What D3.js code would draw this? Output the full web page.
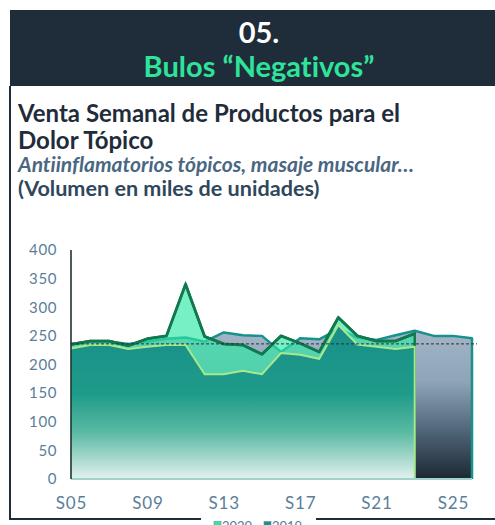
<!DOCTYPE html>
<html>
<head>
<meta charset="utf-8">
<script src="https://cdn.jsdelivr.net/npm/d3@7"></script>
<style>
  html, body { margin: 0; padding: 0; background: #ffffff; }
  svg { display: block; font-family: Lato, "Open Sans", sans-serif; font-variant-ligatures: none; }
</style>
</head>
<body>
<svg id="chart" width="495" height="525"></svg>
<script>
// ---- data ----
const weeks = ["S05","S06","S07","S08","S09","S10","S11","S12","S13","S14","S15","S16","S17","S18","S19","S20","S21","S22","S23","S24","S25","S26"];
const xTickLabels = ["S05","S09","S13","S17","S21","S25"];
const yTickValues = [0,50,100,150,200,250,300,350,400];
const serie2020 = [235,241,241,233,245,250,340,249,236,234,218,250,237,222,282,250,241,241,254];
const serie2019 = [236,240,240,236,240,245,247,240,256,251,250,222,246,244,262,247,243,251,259,250,250,246];
const serieBase = [228,234,234,227,231,234,234,183,183,189,183,220,217,210,269,235,231,227,231];
const mediaValue = 236;
const legendLabels = ["2020","2019"];

// ---- layout ----
const svg = d3.select("#chart");
const x = d3.scalePoint().domain(weeks).range([71, 472]);
const y = d3.scaleLinear().domain([0, 400]).range([479, 250]);
const defs = svg.append("defs");

// header
svg.append("rect").attr("x", 10).attr("y", 10).attr("width", 485).attr("height", 76).attr("fill", "#1f2c39");
svg.append("text").attr("x", 259).attr("y", 43).attr("text-anchor", "middle")
  .attr("fill", "#ffffff").attr("font-weight", 700).attr("font-size", 29).text("05.");
svg.append("text").attr("x", 259).attr("y", 77).attr("text-anchor", "middle")
  .attr("fill", "#2fe39b").attr("font-weight", 700).attr("font-size", 29).text("Bulos “Negativos”");

// frame
svg.append("line").attr("x1", 10).attr("x2", 10).attr("y1", 86).attr("y2", 520).attr("stroke", "#1f2c39").attr("stroke-width", 2);
svg.append("line").attr("x1", 9).attr("x2", 201).attr("y1", 519).attr("y2", 519).attr("stroke", "#1f2c39").attr("stroke-width", 2);
svg.append("line").attr("x1", 316).attr("x2", 495).attr("y1", 519).attr("y2", 519).attr("stroke", "#1f2c39").attr("stroke-width", 2);

// titles
svg.append("text").attr("x", 18).attr("y", 122).attr("fill", "#1f2c39").attr("font-weight", 700).attr("font-size", 24).text("Venta Semanal de Productos para el");
svg.append("text").attr("x", 18).attr("y", 149).attr("fill", "#1f2c39").attr("font-weight", 700).attr("font-size", 24).text("Dolor Tópico");
svg.append("text").attr("x", 18).attr("y", 172).attr("fill", "#4a6782").attr("font-weight", 700).attr("font-style", "italic").attr("font-size", 21).text("Antiinflamatorios tópicos, masaje muscular…");
svg.append("text").attr("x", 18).attr("y", 196).attr("fill", "#2f475c").attr("font-weight", 700).attr("font-size", 21.6).text("(Volumen en miles de unidades)");

// gradients
const g19 = defs.append("linearGradient").attr("id", "g19").attr("gradientUnits", "userSpaceOnUse")
  .attr("x1", 0).attr("x2", 0).attr("y1", y(262)).attr("y2", y(0));
[["0%", "#a3b6c8"], ["35%", "#8ea4b7"], ["70%", "#4c6174"], ["100%", "#1d2834"]].forEach(s => g19.append("stop").attr("offset", s[0]).attr("stop-color", s[1]));
const gBase = defs.append("linearGradient").attr("id", "gBase").attr("gradientUnits", "userSpaceOnUse")
  .attr("x1", 0).attr("x2", 0).attr("y1", y(270)).attr("y2", y(0));
[["0%", "#178f89"], ["45%", "#1f9b89"], ["70%", "#5abaa4"], ["100%", "#e4f1ee"]].forEach(s => gBase.append("stop").attr("offset", s[0]).attr("stop-color", s[1]));

const plot = svg.append("g");

const area = d3.area().x(d => x(d[0])).y0(y(0)).y1(d => y(d[1]));
const line = d3.line().x(d => x(d[0])).y(d => y(d[1]));
const d19 = serie2019.map((v, i) => [weeks[i], v]);
const d20 = serie2020.map((v, i) => [weeks[i], v]);
const dB = serieBase.map((v, i) => [weeks[i], v]);

// 2019 area
plot.append("path").attr("d", area(d19)).attr("fill", "url(#g19)");
plot.append("path").attr("d", line(d19.concat([[weeks[serie2019.length - 1], 0]]))).attr("fill", "none")
  .attr("stroke", "#16918b").attr("stroke-width", 2.5).attr("stroke-linejoin", "round");

// 2020 area
plot.append("path").attr("d", area(d20)).attr("fill", "#2ee8a6").attr("fill-opacity", 0.65);
plot.append("path").attr("d", line(d20.concat([[weeks[serie2020.length - 1], 0]]))).attr("fill", "none")
  .attr("stroke", "#12784e").attr("stroke-width", 2.5);

// base area
plot.append("path").attr("d", area(dB)).attr("fill", "url(#gBase)");
plot.append("path").attr("d", line(dB.concat([[weeks[serieBase.length - 1], 0]]))).attr("fill", "none")
  .attr("stroke", "#a8e88c").attr("stroke-width", 2);

// 2020 line on top
plot.append("path").attr("d", line(d20)).attr("fill", "none")
  .attr("stroke", "#12784e").attr("stroke-width", 2.8).attr("stroke-linejoin", "round");

// baseline & axis line
plot.append("line").attr("x1", x(weeks[0])).attr("x2", x(weeks[weeks.length - 1])).attr("y1", y(0)).attr("y2", y(0))
  .attr("stroke", "#9fd3cb").attr("stroke-width", 2);
plot.append("line").attr("x1", x(weeks[0])).attr("x2", x(weeks[0])).attr("y1", y(400)).attr("y2", y(0))
  .attr("stroke", "#1d3530").attr("stroke-width", 1.6);

// average dashed line
plot.append("line").attr("x1", x(weeks[0])).attr("x2", x(weeks[weeks.length - 1]) + 5).attr("y1", y(mediaValue)).attr("y2", y(mediaValue))
  .attr("stroke", "#2b3138").attr("stroke-width", 1).attr("stroke-dasharray", "3,2");

// axes
const yAxis = svg.append("g").attr("transform", "translate(57,0)")
  .call(d3.axisLeft(y).tickValues(yTickValues).tickSize(0).tickPadding(0));
yAxis.select(".domain").remove();
yAxis.selectAll("text").attr("fill", "#5a7e99").attr("font-size", 15).attr("font-family", "Lato").attr("letter-spacing", 0.6);

const xAxis = svg.append("g").attr("transform", `translate(0,${y(0)})`)
  .call(d3.axisBottom(x).tickValues(xTickLabels).tickSize(0).tickPadding(0));
xAxis.select(".domain").remove();
xAxis.selectAll("text").attr("fill", "#5a7e99").attr("font-size", 17).attr("font-family", "Lato")
  .attr("dy", 0).attr("y", 30).attr("letter-spacing", 0.8);

// legend (cropped at bottom, as in the reference)
const legColors = ["#2ee8a0", "#1a9090"];
const lg = svg.append("g");
const legX = [214, 264];
legendLabels.forEach((l, i) => {
  lg.append("rect").attr("x", legX[i]).attr("y", 521.5).attr("width", 7).attr("height", 7)
    .attr("fill", legColors[i]).attr("stroke", "#6a8a9a").attr("stroke-width", 0.6);
  lg.append("text").attr("x", legX[i] + 8).attr("y", 531).attr("fill", "#5a7e99").attr("font-size", 13).text(l);
});
</script>
</body>
</html>
